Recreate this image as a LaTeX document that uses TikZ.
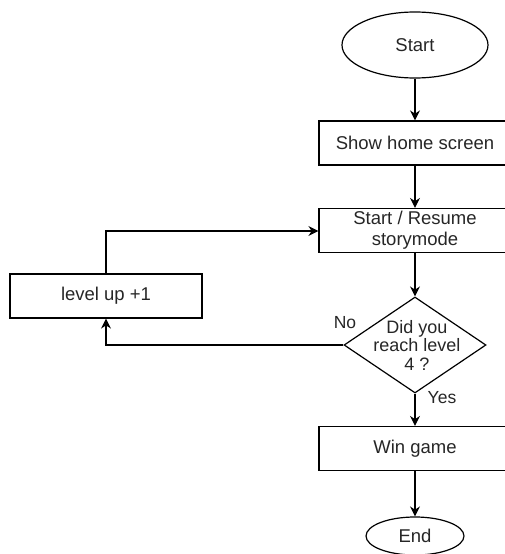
\documentclass[tikz,border=0pt]{standalone}
\usepackage{fontspec}
\setmainfont{Liberation Sans}
\usetikzlibrary{shapes.geometric,arrows.meta}
\begin{document}
\begin{tikzpicture}[x=1pt,y=-1pt,
  every node/.style={font=\fontsize{18.5}{21}\selectfont, text=black!85},
  boxnode/.style={draw, line width=1.2pt, rectangle, minimum width=192pt, minimum height=44pt, align=center, inner sep=0pt},
  termnode/.style={draw, line width=1.2pt, ellipse, inner sep=0pt},
  decnode/.style={draw, line width=1.2pt, diamond, aspect=1.48, minimum width=142pt, minimum height=96pt, inner sep=0pt, align=center},
  conn/.style={line width=1.2pt, -{Stealth[length=10pt,width=10pt]}},
  lbl/.style={font=\fontsize{17.5}{20}\selectfont}]
\useasboundingbox (0,0) rectangle (504,554);
\node[termnode, minimum width=146pt, minimum height=66pt] (start) at (415,45) {Start};
\node[boxnode] (home) at (415,143) {Show home screen};
\node[boxnode] (story) at (415,230.5) {Start / Resume\\storymode};
\node[decnode, minimum width=142pt, minimum height=96pt] (dec) at (415,345) {};
\node[align=center, font=\fontsize{18}{18.5}\selectfont] (dectext) at (417,345) {Did you\\reach level\\4 ?};
\node[boxnode] (lvl) at (106,296) {level up +1};
\node[boxnode] (win) at (415,448.5) {Win game};
\node[termnode, minimum width=98pt, minimum height=38pt] (end) at (415,536) {End};
\node[lbl] (no) at (345,323) {No};
\node[lbl] (yes) at (442,398) {Yes};
\coordinate (c1) at (106,345);
\coordinate (c2) at (106,231);
\draw[conn] (start) -- (home);
\draw[conn] (home) -- (story);
\draw[conn] (story) -- (dec.north);
\draw[conn] (dec.west) -- (c1) -- (lvl.south);
\draw[conn] (lvl.north) -- (c2) -- (story.west |- c2);
\draw[conn] (dec.south) -- (win);
\draw[conn] (win) -- (end);
\end{tikzpicture}
\end{document}
